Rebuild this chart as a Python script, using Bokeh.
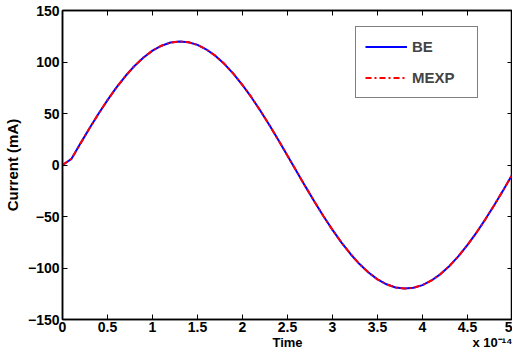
from bokeh.plotting import figure
from bokeh.models import Range1d, LinearAxis, FixedTicker, Legend, LegendItem
from bokeh.embed import file_html
from bokeh.resources import INLINE

# Time (x 1e-14)
time = [0.0, 0.1, 0.2, 0.3, 0.4, 0.5, 0.6, 0.7, 0.8, 0.9,
        1.0, 1.1, 1.2, 1.3, 1.4, 1.5, 1.6, 1.7, 1.8, 1.9,
        2.0, 2.1, 2.2, 2.3, 2.4, 2.5, 2.6, 2.7, 2.8, 2.9,
        3.0, 3.1, 3.2, 3.3, 3.4, 3.5, 3.6, 3.7, 3.8, 3.9,
        4.0, 4.1, 4.2, 4.3, 4.4, 4.5, 4.6, 4.7, 4.8, 4.9, 5.0]
# Current (mA), BE method
be = [0.0, 6.0, 21.0, 35.6, 49.7, 63.0, 75.3, 86.4, 96.2, 104.4,
      111.0, 115.8, 118.9, 120.0, 119.2, 116.6, 112.1, 105.9, 98.0, 88.5,
      77.6, 65.6, 52.5, 38.5, 24.0, 9.0, -6.0, -21.0, -35.6, -49.7,
      -63.0, -75.3, -86.4, -96.2, -104.4, -111.0, -115.8, -118.9, -120.0, -119.2,
      -116.6, -112.1, -105.9, -98.0, -88.5, -77.6, -65.6, -52.5, -38.5, -24.0, -9.0]
# Current (mA), MEXP method
mexp = [0.0, 6.0, 21.0, 35.6, 49.7, 63.0, 75.3, 86.4, 96.2, 104.4,
        111.0, 115.8, 118.9, 120.0, 119.2, 116.6, 112.1, 105.9, 98.0, 88.5,
        77.6, 65.6, 52.5, 38.5, 24.0, 9.0, -6.0, -21.0, -35.6, -49.7,
        -63.0, -75.3, -86.4, -96.2, -104.4, -111.0, -115.8, -118.9, -120.0, -119.2,
        -116.6, -112.1, -105.9, -98.0, -88.5, -77.6, -65.6, -52.5, -38.5, -24.0, -9.0]

x_ticks = [0, 0.5, 1, 1.5, 2, 2.5, 3, 3.5, 4, 4.5, 5]
x_tick_labels = ["0", "0.5", "1", "1.5", "2", "2.5", "3", "3.5", "4", "4.5", "5"]
y_ticks = [-150, -100, -50, 0, 50, 100, 150]
y_tick_labels = ["\u2212150", "\u2212100", "\u221250", "0", "50", "100", "150"]
x_title = "Time"
x_scale_note = "x 10\u207b\u00b9\u2074"

FONT = "Liberation Sans"

p = figure(width=512, height=352, output_backend="svg", toolbar_location=None,
           x_range=Range1d(0, 5), y_range=Range1d(-150, 150),
           x_axis_type=None, y_axis_type=None,
           min_border_left=55, min_border_right=0, min_border_top=10, min_border_bottom=0)
p.grid.visible = False
p.outline_line_color = "black"
p.outline_line_width = 1.5
p.background_fill_color = "white"
p.border_fill_color = "white"

def style(ax, labels=True, size="14px"):
    ax.axis_line_color = "black"
    ax.axis_line_width = 1.5
    ax.major_tick_in = 5
    ax.major_tick_out = 0
    ax.minor_tick_line_color = None
    ax.major_tick_line_width = 1
    ax.major_label_text_font = FONT
    ax.major_label_text_font_style = "bold"
    ax.major_label_text_font_size = size
    ax.major_label_text_color = "black"
    ax.axis_label_text_font = FONT
    ax.axis_label_text_font_style = "bold"
    ax.axis_label_text_font_size = "15px"
    ax.axis_label_text_color = "black"
    if not labels:
        ax.major_label_text_font_size = "0px"
        ax.major_label_standoff = 0
        ax.axis_label_standoff = 0

xb = LinearAxis(ticker=FixedTicker(ticks=x_ticks),
                major_label_overrides={t: l for t, l in zip(x_ticks, x_tick_labels)})
style(xb)
xb.major_label_standoff = 2
p.add_layout(xb, "below")

# second row under the tick labels: axis title and the scale factor
xl = LinearAxis(ticker=FixedTicker(ticks=[2.5, 4.8]),
                major_label_overrides={2.5: x_title, 4.8: x_scale_note})
style(xl, size="13px")
xl.axis_line_color = None
xl.major_tick_line_color = None
xl.major_tick_in = 0
xl.major_label_standoff = 0
p.add_layout(xl, "below")

yl = LinearAxis(ticker=FixedTicker(ticks=y_ticks),
                major_label_overrides={t: l for t, l in zip(y_ticks, y_tick_labels)},
                axis_label="Current (mA)")
style(yl)
yl.major_label_standoff = 3
yl.axis_label_standoff = 4
p.add_layout(yl, "left")

xt = LinearAxis(ticker=FixedTicker(ticks=x_ticks),
                major_label_overrides={t: "" for t in x_ticks})
style(xt, labels=False)
p.add_layout(xt, "above")
yr = LinearAxis(ticker=FixedTicker(ticks=y_ticks),
                major_label_overrides={t: "" for t in y_ticks})
style(yr, labels=False)
p.add_layout(yr, "right")

r1 = p.line(time, be, line_color="blue", line_width=2)
r2 = p.line(time, mexp, line_color="red", line_width=2, line_dash="6 3 2 3")

legend = Legend(items=[LegendItem(label="BE", renderers=[r1]),
                       LegendItem(label="MEXP", renderers=[r2])],
                location=(293, 221))
legend.border_line_color = "black"
legend.border_line_width = 1
legend.background_fill_alpha = 1
legend.label_text_font = FONT
legend.label_text_font_style = "bold"
legend.label_text_font_size = "15px"
legend.glyph_width = 42
legend.glyph_height = 21
legend.label_height = 21
legend.spacing = 10
legend.padding = 9
legend.margin = 0
legend.label_standoff = 5
legend.label_width = 56
p.add_layout(legend, "center")

out = file_html(p, INLINE)
open("out.html", "w").write(out)
